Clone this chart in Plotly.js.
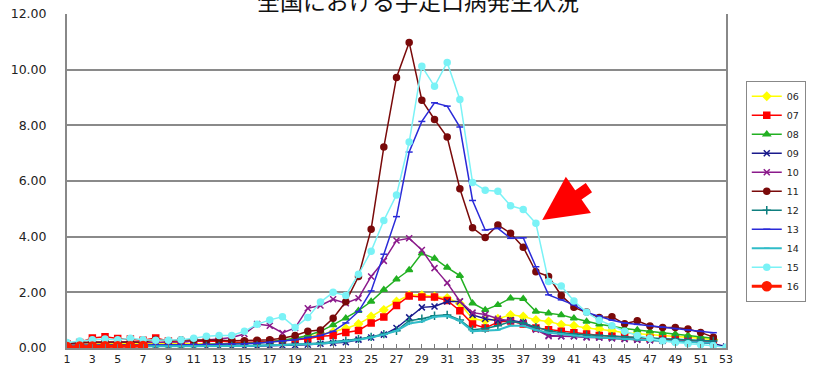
<!DOCTYPE html>
<html>
<head>
<meta charset="utf-8">
<script src="https://cdn.plot.ly/plotly-3.0.1.min.js"></script>
<style>html,body{margin:0;padding:0;background:#fff;}#chart{width:818px;height:367px;}</style>
</head>
<body>
<div id="chart"></div>
<script>
// weeks
const weeks = Array.from({length: 53}, (_, i) => i + 1);
const tickLabels = weeks.map(w => (w % 2 === 1 ? String(w) : ''));
const seriesNames = ['06','07','08','09','10','11','12','13','14','15','16'];

const s06 = [0.12,0.15,0.17,0.18,0.18,0.17,0.16,0.15,0.15,0.14,0.14,0.14,0.15,0.15,0.17,0.19,0.22,0.26,0.32,
  0.40,0.48,0.58,0.70,0.86,1.13,1.37,1.67,1.90,1.90,1.85,1.80,1.60,1.05,
  0.98,1.05,1.19,1.13,1.01,0.95,0.84,0.80,0.72,0.68,0.62,0.55,0.52,0.48,0.45,0.42,0.40,0.35,0.30];
const s07 = [0.15,0.20,0.36,0.40,0.34,0.32,0.28,0.36,0.25,0.22,0.25,0.24,0.25,0.22,0.20,0.22,0.24,0.26,0.30,
  0.33,0.42,0.45,0.56,0.63,0.90,1.11,1.53,1.87,1.83,1.83,1.71,1.34,0.86,
  0.72,0.93,0.97,0.86,0.72,0.66,0.60,0.55,0.50,0.45,0.42,0.40,0.38,0.35,0.32,0.30,0.28,0.25,0.22];
const s08 = [0.08,0.10,0.12,0.12,0.12,0.11,0.10,0.10,0.10,0.10,0.11,0.12,0.13,0.14,0.16,0.18,0.22,0.28,0.35,
  0.45,0.60,0.83,1.07,1.34,1.67,2.09,2.47,2.80,3.40,3.22,2.89,2.60,1.61,
  1.37,1.55,1.79,1.77,1.31,1.25,1.19,1.07,0.95,0.85,0.78,0.70,0.65,0.60,0.55,0.50,0.45,0.40,0.35];
const s09 = [0.05,0.05,0.05,0.05,0.05,0.05,0.05,0.05,0.05,0.05,0.05,0.05,0.05,0.06,0.06,0.07,0.08,0.09,0.10,
  0.12,0.15,0.18,0.21,0.30,0.38,0.48,0.72,1.10,1.46,1.49,1.67,1.67,1.19,
  1.05,0.98,1.00,0.92,0.70,0.45,0.42,0.42,0.40,0.38,0.35,0.32,0.30,0.28,0.26,0.25,0.22,0.20,0.15,0.05];
const s10 = [0.15,0.18,0.20,0.20,0.22,0.22,0.20,0.20,0.20,0.22,0.25,0.28,0.32,0.38,0.50,0.86,0.80,0.54,0.72,
  1.43,1.53,1.75,1.61,1.79,2.57,3.13,3.86,3.94,3.52,2.87,2.34,1.68,1.27,
  1.20,1.05,0.97,0.88,0.66,0.42,0.42,0.42,0.38,0.38,0.35,0.32,0.30,0.28,0.28,0.26,0.25,0.22,0.20];
const s11 = [0.15,0.20,0.22,0.22,0.20,0.20,0.22,0.30,0.25,0.30,0.30,0.28,0.28,0.26,0.26,0.28,0.30,0.35,0.45,
  0.60,0.65,1.07,1.66,2.57,4.27,7.22,9.72,10.98,8.90,8.21,7.58,5.72,4.32,
  3.97,4.42,4.12,3.62,2.74,2.57,1.89,1.46,1.29,1.10,1.12,0.87,0.98,0.79,0.74,0.74,0.68,0.56,0.39];
const s12 = [0.06,0.06,0.06,0.06,0.06,0.06,0.06,0.06,0.06,0.06,0.06,0.07,0.07,0.07,0.08,0.09,0.10,0.11,0.13,
  0.15,0.18,0.22,0.26,0.32,0.40,0.50,0.62,0.98,1.05,1.16,1.19,1.01,0.66,
  0.70,0.80,0.95,0.90,0.75,0.62,0.55,0.50,0.48,0.45,0.42,0.40,0.38,0.36,0.34,0.32,0.30,0.28,0.25];
const s13 = [0.10,0.10,0.12,0.12,0.12,0.12,0.12,0.12,0.12,0.12,0.12,0.13,0.13,0.14,0.15,0.17,0.20,0.25,0.30,
  0.38,0.45,0.60,0.90,1.31,2.05,3.37,4.72,7.04,8.14,8.81,8.69,7.94,5.30,
  4.24,4.30,3.94,3.96,2.92,1.91,1.73,1.55,1.28,1.15,1.00,0.90,0.85,0.80,0.75,0.70,0.65,0.60,0.55];
const s14 = [0.05,0.05,0.05,0.05,0.05,0.05,0.05,0.05,0.05,0.05,0.05,0.06,0.06,0.06,0.07,0.08,0.09,0.10,0.11,
  0.12,0.15,0.20,0.25,0.30,0.38,0.48,0.62,0.88,0.95,1.12,1.15,0.98,0.60,
  0.62,0.65,0.80,0.80,0.65,0.55,0.50,0.45,0.40,0.38,0.35,0.32,0.30,0.28,0.26,0.25,0.22,0.20,0.18];
const s15 = [0.20,0.25,0.30,0.32,0.30,0.35,0.30,0.28,0.28,0.30,0.35,0.42,0.45,0.45,0.60,0.85,1.01,1.12,0.74,
  1.10,1.65,2.00,1.89,2.65,3.48,4.58,5.50,7.40,10.12,9.40,10.26,8.93,5.95,
  5.67,5.63,5.11,4.98,4.48,2.39,2.23,1.69,1.28,1.00,0.80,0.60,0.45,0.35,0.25,0.20,0.15,0.12,0.08,0.03];
const s16 = [0.04,0.05,0.05,0.06,0.06,0.06,0.07];

const seriesValues = [s06,s07,s08,s09,s10,s11,s12,s13,s14,s15,s16];
const colors = ['#FFFF00','#FF0000','#22B022','#1A1A8C','#8B1A8B','#7A0A0A','#0F7F7F','#2A2AD8','#30BCC8','#7AF2F6','#FF1A00'];
const symbols = ['diamond','square','triangle-up','x-thin-open','x-thin-open','circle','cross-thin-open','line-ew-open','line-ew-open','circle','circle'];
const msizes = [6,6,6,6,6,6,6,5,4,6,9];
const lwidths = [1.5,1.5,1.5,1.5,1.5,1.5,1.5,1.5,2,1.5,3];

const traces = seriesNames.map((name, i) => ({
  type: 'scatter',
  mode: 'lines+markers',
  name: name,
  x: weeks.slice(0, seriesValues[i].length),
  y: seriesValues[i],
  line: {color: colors[i], width: lwidths[i]},
  marker: {color: colors[i], symbol: symbols[i], size: msizes[i], line: {color: colors[i], width: 1.5}}
}));

const layout = {
  width: 818, height: 367,
  margin: {l: 67, r: 70, t: 14, b: 19},
  paper_bgcolor: '#ffffff',
  plot_bgcolor: '#ffffff',
  font: {family: 'DejaVu Sans, sans-serif', size: 12, color: '#222'},
  title: {
    text: '全国における手足口病発生状況',
    font: {family: 'Noto Sans CJK JP', size: 23, color: '#111'},
    x: 0.511, xanchor: 'center', y: 0.995, yanchor: 'middle', yref: 'container'
  },
  xaxis: {
    range: [1, 53],
    tickmode: 'array', tickvals: weeks, ticktext: tickLabels,
    ticks: 'inside', ticklen: 4, tickcolor: '#777', tickwidth: 1,
    showline: true, linecolor: '#888', linewidth: 2, mirror: false,
    showgrid: false, zeroline: false,
    tickfont: {size: 11, color: '#222'}
  },
  yaxis: {
    range: [0, 12], dtick: 2, tick0: 0, tickformat: '.2f',
    showline: true, linecolor: '#888', linewidth: 2, mirror: true,
    showgrid: true, gridcolor: '#8a8a8a', gridwidth: 2, zeroline: false,
    ticks: '', ticklabelstandoff: 16, tickfont: {size: 12.5, color: '#222'}
  },
  legend: {
    x: 1.03, xanchor: 'left', y: 0.80, yanchor: 'top',
    bordercolor: '#888', borderwidth: 1, bgcolor: '#fff',
    font: {size: 9.5, color: '#222'},
    itemwidth: 30, tracegroupgap: 0
  },
  annotations: [{
    x: 38.5, y: 4.6, xref: 'x', yref: 'y',
    ax: 42.3, ay: 5.8, axref: 'x', ayref: 'y',
    text: '', showarrow: true, arrowhead: 2, arrowsize: 0.8, arrowwidth: 11, arrowcolor: '#FF0000'
  }]
};

Plotly.newPlot('chart', traces, layout, {displayModeBar: false, staticPlot: true});
</script>
</body>
</html>
